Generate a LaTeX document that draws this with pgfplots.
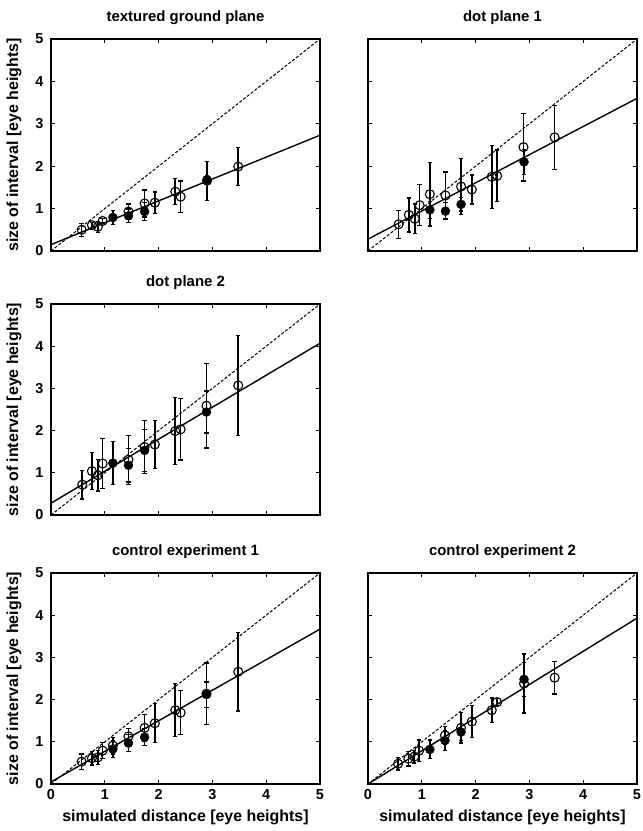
\documentclass[border=0pt]{standalone}
\usepackage{fontspec}
\setmainfont{Liberation Sans}
\usepackage{pgfplots}
\pgfplotsset{compat=1.18}

\pgfplotsset{
  panel/.style={
    scale only axis, width=269bp,
    xmin=0, xmax=5, ymin=0, ymax=5,
    xtick={0,...,5}, ytick={0,...,5},
    tick align=inside, major tick length=4bp,
    axis line style={line width=1.3bp},
    tick style={line width=1.1bp, black},
    /pgf/number format/assume math mode=true,
    ticklabel style={font=\bfseries\fontsize{14.5}{16}\selectfont},
    xticklabel style={yshift=-2bp},
    yticklabel style={xshift=-4bp},
    title style={at={(0.5,1)}, anchor=south, yshift=5bp, font=\bfseries\fontsize{15}{17}\selectfont},
    every axis y label/.style={at={(axis description cs:-0.137,0.5)}, rotate=90, anchor=center,
      font=\bfseries\fontsize{16}{18}\selectfont},
    every axis x label/.style={at={(axis description cs:0.5,-0.16)}, anchor=center,
      font=\bfseries\fontsize{16}{18}\selectfont},
  },
  opendot/.style={only marks, mark=o, mark size=4.5bp, black,
    mark options={fill=white, line width=1.1bp},
    error bars/.cd, y dir=both, y explicit,
    error bar style={line width=1.6bp},
    error mark options={rotate=90, mark size=2.2bp, line width=1.3bp}},
  filldot/.style={only marks, mark=*, mark size=4.5bp, black,
    error bars/.cd, y dir=both, y explicit,
    error bar style={line width=1.6bp},
    error mark options={rotate=90, mark size=2.2bp, line width=1.3bp}},
  unity/.style={black, line width=1bp, dash pattern=on 3bp off 1.8bp},
  fit/.style={black, line width=1.4bp},
}

\begin{document}
\begin{tikzpicture}
\useasboundingbox (0,0) rectangle (643bp,831bp);

% textured ground plane
\begin{axis}[panel, height=212bp, at={(51bp,580bp)}, anchor=south west,
  title={textured ground plane}, xticklabels={},
  ylabel={size of interval [eye heights]}]
\addplot[unity] coordinates {(0,0) (5,5)};
\addplot[fit] coordinates {(0,0.15) (5,2.73)};
\addplot[opendot] coordinates {
  (0.57,0.50) +- (0,0.15) (0.76,0.61) +- (0,0.06) (0.87,0.57) +- (0,0.13)
  (0.96,0.71) +- (0,0.05) (1.44,0.93) +- (0,0.18) (1.74,1.12) +- (0,0.32)
  (1.93,1.14) +- (0,0.25) (2.31,1.40) +- (0,0.31) (2.41,1.28) +- (0,0.37)
  (2.90,1.67) +- (0,0.10) (3.48,1.99) +- (0,0.45)
};
\addplot[filldot] coordinates {
  (1.15,0.79) +- (0,0.17) (1.44,0.83) +- (0,0.16) (1.74,0.93) +- (0,0.21)
  (2.90,1.65) +- (0,0.46)
};
\end{axis}

% dot plane 1
\begin{axis}[panel, height=212bp, at={(368bp,580bp)}, anchor=south west,
  title={dot plane 1}, xticklabels={}, yticklabels={}]
\addplot[unity] coordinates {(0,0) (5,5)};
\addplot[fit] coordinates {(0,0.28) (5,3.60)};
\addplot[opendot] coordinates {
  (0.57,0.63) +- (0,0.33) (0.76,0.85) +- (0,0.40) (0.87,0.76) +- (0,0.35)
  (0.96,1.08) +- (0,0.48) (1.15,1.34) +- (0,0.75) (1.44,1.31) +- (0,0.55)
  (1.73,1.52) +- (0,0.66) (1.93,1.45) +- (0,0.34) (2.30,1.75) +- (0,0.74)
  (2.40,1.77) +- (0,0.61) (2.89,2.45) +- (0,0.80) (3.47,2.68) +- (0,0.75)
};
\addplot[filldot] coordinates {
  (1.15,0.97) +- (0,0.20) (1.44,0.94) +- (0,0.20) (1.73,1.10) +- (0,0.16)
  (2.90,2.10) +- (0,0.30)
};
\end{axis}

% dot plane 2
\begin{axis}[panel, height=211bp, at={(51bp,316bp)}, anchor=south west,
  title={dot plane 2}, xticklabels={},
  ylabel={size of interval [eye heights]}]
\addplot[unity] coordinates {(0,0) (5,5)};
\addplot[fit] coordinates {(0,0.28) (5,4.07)};
\addplot[opendot] coordinates {
  (0.58,0.72) +- (0,0.34) (0.76,1.04) +- (0,0.44) (0.87,0.94) +- (0,0.37)
  (0.96,1.22) +- (0,0.60) (1.44,1.31) +- (0,0.58) (1.74,1.61) +- (0,0.63)
  (1.93,1.67) +- (0,0.57) (2.31,1.99) +- (0,0.79) (2.41,2.03) +- (0,0.73)
  (2.89,2.59) +- (0,1.00) (3.48,3.07) +- (0,1.18)
};
\addplot[filldot] coordinates {
  (1.15,1.23) +- (0,0.51) (1.44,1.18) +- (0,0.40) (1.74,1.53) +- (0,0.50)
  (2.89,2.44) +- (0,0.50)
};
\end{axis}

% control experiment 1
\begin{axis}[panel, height=211bp, at={(51bp,47bp)}, anchor=south west,
  title={control experiment 1},
  xlabel={simulated distance [eye heights]},
  ylabel={size of interval [eye heights]}]
\addplot[unity] coordinates {(0,0) (5,5)};
\addplot[fit] coordinates {(0,0.05) (5,3.67)};
\addplot[opendot] coordinates {
  (0.57,0.53) +- (0,0.18) (0.76,0.61) +- (0,0.16) (0.87,0.63) +- (0,0.16)
  (0.96,0.79) +- (0,0.19) (1.15,0.91) +- (0,0.20) (1.44,1.13) +- (0,0.19)
  (1.74,1.33) +- (0,0.32) (1.93,1.44) +- (0,0.46) (2.31,1.75) +- (0,0.63)
  (2.41,1.69) +- (0,0.52) (2.89,2.14) +- (0,0.73) (3.48,2.66) +- (0,0.93)
};
\addplot[filldot] coordinates {
  (1.15,0.83) +- (0,0.20) (1.44,0.97) +- (0,0.20) (1.74,1.11) +- (0,0.20)
  (2.89,2.12) +- (0,0.30)
};
\end{axis}

% control experiment 2
\begin{axis}[panel, height=211bp, at={(368bp,47bp)}, anchor=south west,
  title={control experiment 2}, yticklabels={},
  xlabel={simulated distance [eye heights]}]
\addplot[unity] coordinates {(0,0) (5,5)};
\addplot[fit] coordinates {(0,0) (5,3.93)};
\addplot[opendot] coordinates {
  (0.56,0.48) +- (0,0.15) (0.75,0.60) +- (0,0.17) (0.86,0.65) +- (0,0.15)
  (0.95,0.79) +- (0,0.25) (1.43,1.15) +- (0,0.21) (1.73,1.33) +- (0,0.36)
  (1.93,1.48) +- (0,0.38) (2.30,1.75) +- (0,0.29) (2.40,1.94) +- (0,0.08)
  (2.90,2.38) +- (0,0.70) (3.47,2.52) +- (0,0.39)
};
\addplot[filldot] coordinates {
  (1.15,0.82) +- (0,0.22) (1.43,1.03) +- (0,0.24) (1.73,1.23) +- (0,0.20)
  (2.90,2.48) +- (0,0.40)
};
\end{axis}
\end{tikzpicture}
\end{document}
